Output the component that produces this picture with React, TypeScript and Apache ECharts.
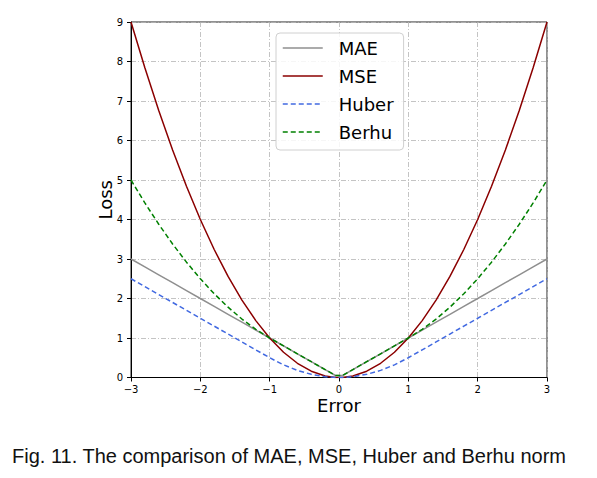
import React, { useEffect, useRef } from 'react'
import * as echarts from 'echarts'

// sample points along the error axis
const errors = [
  -3.0, -2.8, -2.6, -2.4, -2.2, -2.0, -1.8, -1.6, -1.4, -1.2, -1.0, -0.8, -0.6, -0.4, -0.2, -0.05,
  0.05, 0.2, 0.4, 0.6, 0.8, 1.0, 1.2, 1.4, 1.6, 1.8, 2.0, 2.2, 2.4, 2.6, 2.8, 3.0,
]
const maeLoss = [
  3.0, 2.8, 2.6, 2.4, 2.2, 2.0, 1.8, 1.6, 1.4, 1.2, 1.0, 0.8, 0.6, 0.4, 0.2, 0.05,
  0.05, 0.2, 0.4, 0.6, 0.8, 1.0, 1.2, 1.4, 1.6, 1.8, 2.0, 2.2, 2.4, 2.6, 2.8, 3.0,
]
const mseLoss = [
  9, 7.84, 6.76, 5.76, 4.84, 4, 3.24, 2.56, 1.96, 1.44, 1, 0.64, 0.36, 0.16, 0.04, 0.0025,
  0.0025, 0.04, 0.16, 0.36, 0.64, 1, 1.44, 1.96, 2.56, 3.24, 4, 4.84, 5.76, 6.76, 7.84, 9,
]
const huberLoss = [
  2.5, 2.3, 2.1, 1.9, 1.7, 1.5, 1.3, 1.1, 0.9, 0.7, 0.5, 0.32, 0.18, 0.08, 0.02, 0.00125,
  0.00125, 0.02, 0.08, 0.18, 0.32, 0.5, 0.7, 0.9, 1.1, 1.3, 1.5, 1.7, 1.9, 2.1, 2.3, 2.5,
]
const berhuLoss = [
  5, 4.42, 3.88, 3.38, 2.92, 2.5, 2.12, 1.78, 1.48, 1.22, 1.0, 0.8, 0.6, 0.4, 0.2, 0.05,
  0.05, 0.2, 0.4, 0.6, 0.8, 1.0, 1.22, 1.48, 1.78, 2.12, 2.5, 2.92, 3.38, 3.88, 4.42, 5,
]
const seriesNames = ['MAE', 'MSE', 'Huber', 'Berhu']
const caption = 'Fig. 11. The comparison of MAE, MSE, Huber and Berhu norm'

const pair = (ys: number[]) => errors.map((x, i) => [x, ys[i]])
const minus = (v: number) => (v < 0 ? '\u2212' + Math.abs(v) : String(v))

const tickFont = { fontFamily: 'DejaVu Sans', fontSize: 10, color: '#000' }
const gridLine = { show: true, lineStyle: { color: '#b5b5b5', width: 0.8, type: [5, 2, 1, 2] } }

function App() {
  const ref = useRef<HTMLDivElement>(null)

  useEffect(() => {
    const chart = echarts.init(ref.current as HTMLDivElement, undefined, { renderer: 'svg' })
    chart.setOption({
      animation: false,
      backgroundColor: '#fff',
      title: {
        text: caption,
        left: 12,
        top: 445.5,
        padding: 0,
        textStyle: { fontFamily: 'Liberation Sans', fontSize: 20, fontWeight: 'normal', color: '#111' },
      },
      grid: { left: 131, top: 22, width: 416, height: 355.5, show: true, borderColor: '#222', borderWidth: 1 },
      legend: {
        data: seriesNames,
        orient: 'vertical',
        left: 276,
        top: 33,
        padding: [5, 10, 8, 6],
        itemWidth: 40,
        itemHeight: 14,
        itemGap: 8,
        itemStyle: { opacity: 0 },
        lineStyle: { width: 1.5 },
        backgroundColor: 'rgba(255,255,255,0.85)',
        borderColor: '#d0d0d0',
        borderWidth: 1,
        borderRadius: 4,
        textStyle: { fontFamily: 'DejaVu Sans', fontSize: 18, color: '#000', lineHeight: 20, padding: [0, 0, 0, 11] },
      },
      xAxis: {
        type: 'value',
        min: -3,
        max: 3,
        interval: 1,
        name: 'Error',
        nameLocation: 'middle',
        nameGap: 19,
        nameMoveOverlap: false,
        nameTextStyle: { fontFamily: 'DejaVu Sans', fontSize: 18, color: '#000' },
        axisLine: { show: true, onZero: false, lineStyle: { color: '#000', width: 1 } },
        axisTick: { show: true, length: 4, lineStyle: { color: '#000' } },
        axisLabel: { ...tickFont, margin: 7, formatter: minus },
        splitLine: gridLine,
      },
      yAxis: {
        type: 'value',
        min: 0,
        max: 9,
        interval: 1,
        name: 'Loss',
        nameLocation: 'middle',
        nameGap: 17,
        nameMoveOverlap: false,
        nameTextStyle: { fontFamily: 'DejaVu Sans', fontSize: 18, color: '#000' },
        axisLine: { show: true, onZero: false, lineStyle: { color: '#000', width: 1 } },
        axisTick: { show: true, length: 4, lineStyle: { color: '#000' } },
        axisLabel: { ...tickFont, margin: 8, formatter: minus },
        splitLine: gridLine,
      },
      series: [
        { name: 'MAE', type: 'line', symbol: 'none', data: pair(maeLoss), lineStyle: { color: '#8f8f8f', width: 1.5 }, itemStyle: { color: '#8f8f8f' } },
        { name: 'MSE', type: 'line', symbol: 'none', data: pair(mseLoss), lineStyle: { color: '#8b0000', width: 1.5 }, itemStyle: { color: '#8b0000' } },
        { name: 'Huber', type: 'line', symbol: 'none', data: pair(huberLoss), lineStyle: { color: '#4169e1', width: 1.5, type: [5, 3] }, itemStyle: { color: '#4169e1' } },
        { name: 'Berhu', type: 'line', symbol: 'none', data: pair(berhuLoss), lineStyle: { color: '#008000', width: 1.5, type: [5, 3] }, itemStyle: { color: '#008000' } },
      ],
    })
    return () => {
      chart.dispose()
    }
  }, [])

  return <div ref={ref} style={{ position: 'absolute', left: 0, top: 0, width: 597, height: 478 }} />
}

export default App
